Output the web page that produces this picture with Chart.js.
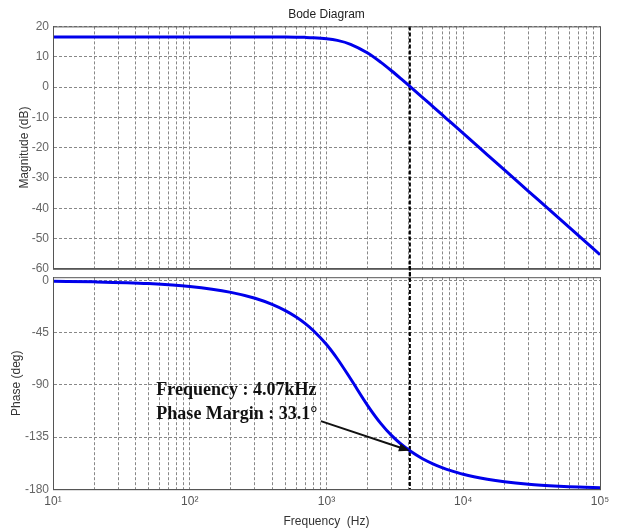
<!DOCTYPE html>
<html lang="en">
<head>
<meta charset="UTF-8">
<title>Bode Diagram</title>
<script src="https://cdn.jsdelivr.net/npm/chart.js"></script>
<style>
  html, body { margin: 0; padding: 0; background: #fff; }
  #wrap { position: relative; width: 617px; height: 529px; }
  #magBox { position: absolute; left: 0; top: 0; width: 617px; height: 280px; }
  #phaseBox { position: absolute; left: 0; top: 266px; width: 617px; height: 263px; }
</style>
</head>
<body>
<div id="wrap">
  <div id="magBox"><canvas id="magChart"></canvas></div>
  <div id="phaseBox"><canvas id="phaseChart"></canvas></div>
</div>
<script>
  // values (Hz, dB, deg)
  const freq = [10, 20, 50, 100, 200, 300, 400, 500, 600, 700, 800, 1000, 1200, 1500, 2000,
                2500, 3000, 3500, 4070, 5000, 6000, 7000, 8000, 10000, 15000, 20000, 30000,
                50000, 70000, 100000];
  const magDb = [16.5, 16.5, 16.5, 16.5, 16.5, 16.5, 16.49, 16.48, 16.44, 16.38, 16.28, 15.94,
                 15.38, 14.1, 11.21, 8.13, 5.29, 2.75, 0.2, -3.32, -6.47, -9.14, -11.46, -15.33,
                 -22.38, -27.38, -34.42, -43.29, -49.14, -55.34];
  const phaseDeg = [-0.5, -1.0, -2.5, -5.0, -10.1, -15.2, -20.5, -25.9, -31.4, -37.1, -43.0, -55.1,
                    -67.4, -84.7, -107.8, -123.4, -133.8, -141.0, -146.9, -153.5, -158.1, -161.3,
                    -163.7, -167.1, -171.4, -173.6, -175.7, -177.4, -178.2, -178.7];

  const decades = [10, 100, 1000, 10000, 100000];
  const decadeLabels = ['10¹', '10²', '10³', '10⁴', '10⁵'];
  const magTicks = [20, 10, 0, -10, -20, -30, -40, -50, -60];
  const phaseTicks = [0, -45, -90, -135, -180];

  // crossover / phase margin marker
  const crossFreq = 4070;
  const crossPhase = -146.9;
  const noteLines = ['Frequency : 4.07kHz', 'Phase Margin : 33.1°'];

  // grid lines at 1..9 x each decade
  const gridFreqs = [];
  decades.slice(0, 4).forEach(d => { for (let k = 1; k < 10; k++) gridFreqs.push(d * k); });
  gridFreqs.push(100000);

  const sans = "'Liberation Sans', Arial, sans-serif";
  const blue = 'rgb(0, 0, 235)';

  function freqAxis(showLabels) {
    return {
      type: 'logarithmic',
      min: 10,
      max: 100000,
      afterBuildTicks: scale => {
        scale.ticks = gridFreqs.map(v => ({ value: v, major: decades.includes(v) }));
      },
      ticks: {
        display: showLabels,
        autoSkip: false,
        maxRotation: 0,
        color: '#555',
        padding: 5,
        font: { family: sans, size: 12 },
        callback: value => {
          const i = decades.indexOf(value);
          return i >= 0 ? decadeLabels[i] : '';
        }
      },
      grid: { color: '#888', drawTicks: false },
      border: { color: '#555', dash: [3, 2] },
      title: {
        display: showLabels,
        text: 'Frequency  (Hz)',
        color: '#333',
        font: { family: sans, size: 12 },
        padding: { top: 1, bottom: 0 }
      }
    };
  }

  function valueAxis(ticksList, min, max, label, titlePad) {
    return {
      min: min,
      max: max,
      afterBuildTicks: scale => { scale.ticks = ticksList.map(v => ({ value: v })); },
      afterFit: scale => { scale.width = 53; },
      ticks: { color: '#666', padding: 4, font: { family: sans, size: 12 } },
      grid: { color: '#888', drawTicks: false },
      border: { color: '#555', dash: [3, 2] },
      title: {
        display: true,
        text: label,
        color: '#333',
        font: { family: sans, size: 12 },
        padding: { top: titlePad, bottom: 0 }
      }
    };
  }

  // box around plot area and the dashed crossover line
  const framePlugin = {
    id: 'frame',
    beforeDatasetsDraw(chart, args, opts) {
      const { ctx, chartArea } = chart;
      const x = chart.scales.x.getPixelForValue(crossFreq);
      ctx.save();
      ctx.strokeStyle = '#000';
      ctx.lineWidth = 2;
      ctx.setLineDash([4, 2]);
      ctx.beginPath();
      ctx.moveTo(x, opts.top ? chartArea.top : 0);
      ctx.lineTo(x, opts.top ? chart.height : chartArea.bottom);
      ctx.stroke();
      ctx.restore();
    },
    afterDraw(chart) {
      const { ctx, chartArea } = chart;
      ctx.save();
      ctx.strokeStyle = '#555';
      ctx.lineWidth = 1;
      ctx.strokeRect(chartArea.left + 0.5, chartArea.top + 0.5,
                     chartArea.right - chartArea.left, chartArea.bottom - chartArea.top);
      ctx.restore();
    }
  };

  // text note with arrow pointing to the phase margin point
  const notePlugin = {
    id: 'note',
    afterDraw(chart) {
      const { ctx } = chart;
      const xs = chart.scales.x, ys = chart.scales.y;
      ctx.save();
      ctx.fillStyle = '#111';
      ctx.font = "bold 18px 'Liberation Serif', 'Times New Roman', serif";
      ctx.textBaseline = 'alphabetic';
      ctx.fillText(noteLines[0], xs.getPixelForValue(57), ys.getPixelForValue(-98.7));
      ctx.fillText(noteLines[1], xs.getPixelForValue(57), ys.getPixelForValue(-119.4));

      const x0 = xs.getPixelForValue(910), y0 = ys.getPixelForValue(-121.2);
      const x1 = xs.getPixelForValue(crossFreq), y1 = ys.getPixelForValue(crossPhase);
      const ang = Math.atan2(y1 - y0, x1 - x0);
      ctx.strokeStyle = '#111';
      ctx.lineWidth = 2;
      ctx.beginPath();
      ctx.moveTo(x0, y0);
      ctx.lineTo(x1 - 8 * Math.cos(ang), y1 - 8 * Math.sin(ang));
      ctx.stroke();
      ctx.beginPath();
      ctx.moveTo(x1, y1);
      ctx.lineTo(x1 - 11 * Math.cos(ang) + 4 * Math.sin(ang), y1 - 11 * Math.sin(ang) - 4 * Math.cos(ang));
      ctx.lineTo(x1 - 11 * Math.cos(ang) - 4 * Math.sin(ang), y1 - 11 * Math.sin(ang) + 4 * Math.cos(ang));
      ctx.closePath();
      ctx.fill();
      ctx.restore();
    }
  };

  function series(values) {
    return freq.map((f, i) => ({ x: f, y: values[i] }));
  }

  const lineStyle = {
    borderColor: blue,
    borderWidth: 3,
    pointRadius: 0,
    cubicInterpolationMode: 'monotone',
    fill: false
  };

  new Chart(document.getElementById('magChart'), {
    type: 'line',
    data: { datasets: [Object.assign({ label: 'Magnitude', data: series(magDb) }, lineStyle)] },
    options: {
      animation: false,
      responsive: true,
      maintainAspectRatio: false,
      layout: { padding: { left: 0, right: 17, top: 0, bottom: 0 } },
      plugins: {
        legend: { display: false },
        tooltip: { enabled: false },
        title: {
          display: true,
          text: 'Bode Diagram',
          fullSize: false,
          color: '#222',
          font: { family: sans, size: 12, weight: 'normal' },
          padding: { top: 7, bottom: 5 }
        },
        frame: { top: true }
      },
      scales: {
        x: freqAxis(false),
        y: valueAxis(magTicks, -60, 20, 'Magnitude (dB)', 17)
      }
    },
    plugins: [framePlugin]
  });

  new Chart(document.getElementById('phaseChart'), {
    type: 'line',
    data: { datasets: [Object.assign({ label: 'Phase', data: series(phaseDeg) }, lineStyle)] },
    options: {
      animation: false,
      responsive: true,
      maintainAspectRatio: false,
      layout: { padding: { left: 0, right: 17, top: 0, bottom: 0 } },
      plugins: {
        legend: { display: false },
        tooltip: { enabled: false },
        frame: { top: false }
      },
      scales: {
        x: freqAxis(true),
        y: valueAxis(phaseTicks, -180, 3, 'Phase (deg)', 9)
      }
    },
    plugins: [framePlugin, notePlugin]
  });
</script>
</body>
</html>
